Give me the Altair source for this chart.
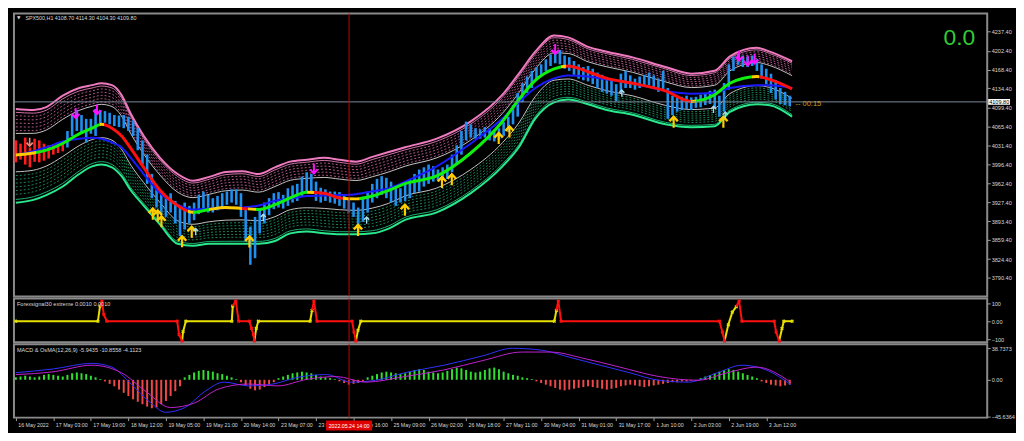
import altair as alt
import pandas as pd

FONT = "Liberation Sans, Arial, sans-serif"

# ---------------- layout ----------------
W = 980
H_MAIN, H_SIG, H_MACD = 285, 44, 74
X_DOMAIN = [-0.8, 414.2]
P_DOMAIN = [3756.5, 4270.4]
S_DOMAIN = [-116, 126]
M_DOMAIN = [-46.5, 43.8]

# ---------------- axis ticks ----------------
price_ticks = [4237.4, 4202.4, 4168.4, 4134.4, 4099.4, 4065.4, 4031.4, 3996.4,
               3962.4, 3927.4, 3893.4, 3859.4, 3824.4, 3790.4, 3756.4]
time_tick_idx = [0, 16, 32, 48, 64, 80, 96, 112, 128, 144, 160, 176, 192, 208,
                 224, 240, 256, 272, 288, 304, 320]
time_tick_lbl = ["16 May 2022", "17 May 03:00", "17 May 19:00", "18 May 12:00",
                 "19 May 05:00", "19 May 21:00", "20 May 14:00", "23 May 07:00",
                 "23 May 23:00", "24 May 16:00", "25 May 09:00", "26 May 02:00",
                 "26 May 18:00", "27 May 11:00", "30 May 04:00", "31 May 01:00",
                 "31 May 17:00", "1 Jun 10:00", "2 Jun 03:00", "2 Jun 19:00",
                 "3 Jun 12:00"]

# ---------------- price bars (every second H1 bar) ----------------
bar_hi = [4040, 4034, 4045, 4027, 4043, 4040, 4034, 4031, 4033, 4036, 4038, 4057, 4086, 4095, 4086, 4079, 4079, 4097, 4095, 4093,
          4090, 4086, 4085, 4086, 4083, 4076, 4062, 4040, 4014, 3979, 3953, 3944, 3935, 3944, 3930, 3918, 3927, 3921, 3927, 3941,
          3947, 3941, 3935, 3939, 3944, 3947, 3951, 3951, 3944, 3918, 3883, 3901, 3915, 3927, 3935, 3944, 3946, 3941, 3953, 3958,
          3961, 3974, 3982, 3979, 3965, 3954, 3951, 3947, 3947, 3946, 3941, 3935, 3927, 3918, 3935, 3947, 3961, 3970, 3975, 3972,
          3965, 3958, 3953, 3961, 3970, 3979, 3987, 3991, 3996, 3993, 3987, 3991, 3996, 4014, 4031, 4057, 4074, 4069, 4062, 4060,
          4064, 4062, 4059, 4062, 4073, 4083, 4104, 4126, 4144, 4156, 4166, 4173, 4178, 4187, 4196, 4201, 4204, 4194, 4191, 4184,
          4178, 4173, 4175, 4170, 4163, 4159, 4152, 4149, 4142, 4161, 4166, 4158, 4152, 4156, 4159, 4163, 4158, 4152, 4166, 4135,
          4121, 4118, 4119, 4121, 4118, 4119, 4123, 4126, 4130, 4132, 4121, 4144, 4178, 4192, 4196, 4194, 4192, 4194, 4187, 4178,
          4170, 4161, 4149, 4135, 4128, 4121]
bar_lo = [4000, 4005, 3996, 3991, 4001, 4000, 4003, 4007, 4014, 4017, 4020, 4027, 4048, 4057, 4052, 4036, 4052, 4048, 4069, 4072,
          4069, 4066, 4064, 4062, 4057, 4048, 4022, 3996, 3961, 3935, 3918, 3906, 3901, 3909, 3889, 3866, 3878, 3889, 3895, 3906,
          3913, 3909, 3909, 3913, 3918, 3923, 3927, 3923, 3901, 3857, 3814, 3826, 3871, 3889, 3904, 3915, 3918, 3916, 3921, 3927,
          3930, 3939, 3947, 3944, 3930, 3927, 3930, 3927, 3925, 3921, 3916, 3909, 3901, 3875, 3892, 3909, 3927, 3935, 3941, 3935,
          3927, 3921, 3927, 3930, 3935, 3944, 3947, 3956, 3961, 3965, 3967, 3968, 3970, 3982, 3996, 4014, 4040, 4045, 4043, 4043,
          4045, 4040, 4038, 4041, 4048, 4055, 4069, 4083, 4109, 4126, 4135, 4152, 4158, 4166, 4175, 4180, 4178, 4170, 4166, 4159,
          4152, 4149, 4147, 4142, 4135, 4128, 4125, 4121, 4111, 4126, 4135, 4135, 4132, 4135, 4138, 4140, 4135, 4128, 4132, 4079,
          4086, 4092, 4095, 4097, 4095, 4099, 4100, 4104, 4106, 4100, 4083, 4092, 4132, 4166, 4177, 4173, 4173, 4175, 4166, 4152,
          4142, 4126, 4114, 4106, 4104, 4102]
red_bar_count = 11
last_price = 4109.8

# ---------------- band knots ----------------
knot_i = [0, 7.5, 13, 20, 27, 32.5, 36.5, 41, 45, 49, 54.5, 61.5, 69, 75.5, 82.5, 89.5, 96.5, 103.5, 110.5, 117,
          124, 131.5, 138, 145, 152, 159, 166, 179.5, 194, 207.5, 214.5, 221.5, 229.5, 235.5, 244, 252, 263, 277, 288, 298,
          304.5, 316, 321.5, 331]
band_up = [4096.8, 4095.1, 4100.3, 4121.1, 4135.0, 4140.2, 4143.7, 4140.2, 4122.9, 4088.2, 4048.2, 4008.3, 3978.8, 3966.6,
           3973.6, 3982.3, 3984.0, 3978.8, 3990.9, 4001.3, 4004.8, 4008.3, 4004.8, 4001.3, 4010.0, 4018.7, 4027.4, 4043.0,
           4074.3, 4122.9, 4161.1, 4201.0, 4230.5, 4227.0, 4209.7, 4201.0, 4190.6, 4173.2, 4161.1, 4166.3, 4192.3, 4207.9,
           4201.0, 4183.6]
band_lo = [3926.7, 3931.9, 3940.6, 3956.2, 3978.8, 3992.7, 3996.1, 3990.9, 3975.3, 3949.3, 3921.5, 3886.8, 3852.1, 3848.6,
           3852.1, 3852.1, 3852.1, 3852.1, 3857.3, 3871.1, 3874.6, 3871.1, 3869.4, 3869.4, 3871.1, 3879.8, 3895.5, 3909.3,
           3944.1, 3992.7, 4027.4, 4079.5, 4109.0, 4114.2, 4105.5, 4095.1, 4086.4, 4069.1, 4063.8, 4065.6, 4091.6, 4105.5,
           4103.8, 4083.0]
center = [4013.5, 4017.0, 4022.2, 4034.3, 4051.7, 4062.1, 4069.1, 4062.1, 4048.2, 4025.6, 3990.9, 3949.3, 3921.5, 3909.3,
          3914.5, 3918.0, 3916.3, 3914.5, 3923.2, 3935.4, 3945.8, 3944.1, 3935.4, 3933.7, 3938.9, 3949.3, 3961.4, 3975.3,
          4017.0, 4074.3, 4114.2, 4148.9, 4169.7, 4174.9, 4164.5, 4152.4, 4143.7, 4129.8, 4110.7, 4122.9, 4143.7, 4155.9,
          4150.6, 4133.3]
slow_ma = [4013.5, 4020.4, 4027.4, 4037.8, 4043.0, 4044.7, 4043.0, 4036.1, 4027.4, 4008.3, 3978.8, 3944.1, 3923.2, 3914.5,
           3916.3, 3917.1, 3918.0, 3921.5, 3930.2, 3933.7, 3938.9, 3939.7, 3940.6, 3942.3, 3947.5, 3952.7, 3964.9, 3992.7,
           4034.3, 4079.5, 4109.0, 4135.0, 4152.4, 4157.6, 4155.9, 4150.6, 4143.7, 4129.8, 4124.6, 4126.3, 4135.0, 4140.2,
           4140.2, 4135.0]
# colour runs of the centre line (start index, colour)
seg_start = [0, 8.8, 35.9, 37.5, 73.4, 75.5, 82.5, 96.3, 99.2, 102.5, 124.2, 127.1, 139.6, 146.3, 232.5, 234.6, 288, 290, 314, 317]
seg_color = ["Y", "G", "Y", "R", "Y", "G", "Y", "R", "Y", "G", "Y", "R", "Y", "G", "Y", "R", "Y", "G", "Y", "R"]

# ---------------- arrows ----------------
arrow_i = [58.4, 60.5, 62.1, 70.9, 75.0, 99.6, 145.9, 165.9, 181.7, 185.9, 205.9, 210.5, 280.5, 301.7,
           25.5, 34.6, 127.1, 230.0, 308.4, 312.1, 315.0,
           76.7, 105.5, 149.6, 258.4, 297.5, 302.5,
           5.9]
arrow_p = [3907.6, 3904.0, 3893.7, 3857.3, 3874.6, 3857.0, 3878.0, 3914.5, 3964.9, 3970.0, 4044.7, 4056.9, 4074.3, 4074.3,
           4088.2, 4095.0, 3987.5, 4204.5, 4192.3, 4183.6, 4187.1,
           3874.6, 3900.7, 3895.7, 4126.3, 4096.8, 4086.4,
           4036.0]
arrow_kind = ["buy"] * 14 + ["sell"] * 7 + ["hint"] * 6 + ["warn"]

# ---------------- Forexsignal30 ----------------
sig_i = [0, 35, 35.9, 36.7, 37.5, 38.8, 68.8, 69.6, 70.9, 71.3, 72.5, 92.1, 92.5, 93.8, 95, 99.6, 100.5, 101.3,
         101.7, 102.5, 103.4, 125.5, 126.3, 127.1, 128.4, 143.4, 144.2, 145, 145.9, 147.1, 229.6, 230.5, 231.3,
         232.5, 300, 301.3, 302.2, 303.8, 305.5, 307.2, 308.4, 309.6, 323.4, 324.2, 325.5, 326.7, 327.5, 331]
sig_v = [0, 0, 84, 112, 37, 0, 0, -74, -110, -58, 0, 0, 84, 112, 0, 0, -40, -74, -110, -40, 0, 0, 60, 112, 0,
         0, -60, -110, -50, 0, 0, 60, 112, 0, 0, -60, -110, -20, 50, 80, 112, 0, 0, -60, -110, -40, 0, 0]
sig_c = ["Y", "Y", "Y", "R", "R", "R", "R", "R", "R", "Y", "Y", "Y", "Y", "R", "R", "R", "R", "R", "R", "Y",
         "Y", "Y", "Y", "R", "R", "R", "R", "R", "Y", "Y", "Y", "Y", "R", "R", "R", "R", "R", "Y", "Y", "Y",
         "R", "R", "R", "R", "R", "Y", "Y", "Y"]

# ---------------- MACD & OsMA ----------------
osma = [3, 4, 5, 4, 3, 4, 6, 7, 6, 5, 4, 6, 8, 9, 8, 7, 5, 3, 1,
        -2, -5, -8, -12, -16, -20, -24, -27, -30, -33, -35, -34, -30, -26, -20, -14, -8,
        3, 6, 9, 11, 12, 11, 10, 8, 7, 5, 3, 1,
        -3, -7, -11, -13, -12, -9, -6, -3,
        2, 4, 6, 8, 9, 10, 9, 8, 6, 4, 3, 2, 1,
        -2, -4, -6, -5, -4, -2,
        3, 5, 7, 9, 10, 9, 8, 7, 8, 10, 12, 13, 12, 10, 9, 8, 9, 11, 13, 15, 14, 12, 10, 9, 10, 12, 14, 15, 13, 10, 8, 6, 5, 3, 2, 1,
        -2, -4, -6, -8, -10, -12, -13, -12, -11, -10, -9, -8, -9, -10, -11, -12, -11, -10, -8, -7, -6, -7, -8, -9, -8, -7, -6, -5,
        -4, -3, -3, -2, -2, -1, -1,
        2, 4, 6, 8, 10, 12, 13, 12, 10, 8, 6, 4, 2,
        -2, -4, -6, -7, -8, -7, -6]
macd_i = [0, 15.9, 32.5, 40.9, 49.2, 57.5, 63.8, 72.1, 80.5, 88.8, 99.2, 109.6, 120, 132.5, 143, 153.4, 165.9, 182.5,
          199.2, 211.7, 224.2, 236.7, 249.2, 261.7, 274.2, 286.7, 299.2, 309.6, 320, 330.4]
macd_v = [8.7, 13.3, 20.2, 15.6, -5.2, -28.3, -39.9, -34.1, -14.5, -2.9, -7.5, -5.2, 2.9, 6.4, -2.9, -0.6, 8.7, 17.9,
          29.5, 38.7, 36.4, 27.2, 17.9, 8.7, -0.6, -2.9, 8.7, 17.9, 12.1, -5.9]
sigl_i = [0, 15.9, 32.5, 45, 55.5, 65.9, 76.3, 86.7, 99.2, 111.7, 124.2, 136.7, 149.2, 165.9, 182.5, 199.2, 215.9,
          228.4, 240.9, 257.5, 274.2, 290.9, 303.4, 315.9, 330.4]
sigl_v = [6.4, 9.8, 17.9, 8.7, -14.5, -34.1, -28.3, -11.0, -5.2, -7.5, 0.6, 4.0, -2.9, 4.0, 12.1, 23.7, 34.1, 34.1,
          27.2, 15.6, 4.0, -0.6, 8.7, 15.6, -3.0]
cursor_i = 142.1

# ---------------- tables ----------------
bars = pd.DataFrame({"i": [2 * k for k in range(len(bar_hi))], "hi": bar_hi, "lo": bar_lo,
                     "c": ["R" if k < red_bar_count else "B" for k in range(len(bar_hi))]})
kn = pd.DataFrame({"i": knot_i, "up": band_up, "lo": band_lo, "ctr": center, "blu": slow_ma})

band_groups = {
    "pink_outer": [1.0], "pink_inner": [0.965], "pink_dots": [0.93, 0.89, 0.85, 0.81, 0.77],
    "white": [0.74, 0.33], "green_dots": [0.29, 0.25, 0.21, 0.17, 0.13, 0.09],
    "green_inner": [0.035], "green_outer": [0.0],
}
rows = []
for g, fr in band_groups.items():
    for fi, f in enumerate(fr):
        for i, u, l in zip(knot_i, band_up, band_lo):
            rows.append({"grp": g, "line": f"{g}{fi}", "i": i, "p": l + f * (u - l)})
bands = pd.DataFrame(rows)

arrows = pd.DataFrame({"i": arrow_i, "p": arrow_p, "k": arrow_kind})

seg_rows = []
for j in range(1, len(sig_i)):
    for jj in (j - 1, j):
        seg_rows.append({"seg": j, "i": sig_i[jj], "v": sig_v[jj], "c": sig_c[j]})
sig_segs = pd.DataFrame(seg_rows)
sig_pts = pd.DataFrame({"i": sig_i, "v": sig_v, "c": sig_c})

hist = pd.DataFrame({"i": [2 * k for k in range(len(osma))], "v": osma,
                     "c": ["G" if v >= 0 else "R" for v in osma]})
macd_df = pd.DataFrame({"i": macd_i, "v": macd_v})
sigl_df = pd.DataFrame({"i": sigl_i, "v": sigl_v})

# ---------------- scales / axes ----------------
xs = alt.Scale(domain=X_DOMAIN, nice=False, zero=False)
ps = alt.Scale(domain=P_DOMAIN, nice=False, zero=False)
ss = alt.Scale(domain=S_DOMAIN, nice=False, zero=False)
ms = alt.Scale(domain=M_DOMAIN, nice=False, zero=False)

AX_COMMON = dict(orient="right", tickSize=3, tickColor="#a0a0a0", domain=False, grid=False, title=None,
                 labelColor="#d8d8d8", labelFontSize=5.6, labelFont=FONT, labelPadding=1,
                 labelFlush=False, labelOverlap=False, labelBound=False)
price_axis = alt.Axis(values=price_ticks, format=".2f", **AX_COMMON)
sig_axis = alt.Axis(values=[100, 0, -100], labelExpr="datum.value == 0 ? '0.00' : format(datum.value, 'd')", **AX_COMMON)
macd_axis = alt.Axis(values=[38.7373, 0, -45.6364],
                     labelExpr="datum.value == 0 ? '0.00' : format(datum.value, '.4f')", **AX_COMMON)
lbl_expr = "''"
for ti, tl in reversed(list(zip(time_tick_idx, time_tick_lbl))):
    lbl_expr = f"datum.value == {ti} ? '{tl}' : ({lbl_expr})"
time_axis = alt.Axis(values=time_tick_idx, labelExpr=lbl_expr, orient="bottom", tickSize=3, tickColor="#a0a0a0",
                     domain=False, grid=False, title=None, labelColor="#d8d8d8", labelFontSize=5.3, labelFont=FONT,
                     labelAlign="left", labelBaseline="top", labelPadding=2, labelFlush=False, labelOverlap=False,
                     labelBound=False, labelOffset=2)


def X(f):
    return alt.X(f, type="quantitative", scale=xs, axis=None)


def XM(f):
    return alt.X(f, type="quantitative", scale=xs, axis=time_axis)


def YP(f):
    return alt.Y(f, type="quantitative", scale=ps, axis=price_axis)


def YS(f):
    return alt.Y(f, type="quantitative", scale=ss, axis=sig_axis)


def YM(f):
    return alt.Y(f, type="quantitative", scale=ms, axis=macd_axis)


UP = "M0,-1 L0.8,-0.15 L0.5,0.1 L0.17,-0.3 L0.17,1 L-0.17,1 L-0.17,-0.3 L-0.5,0.1 L-0.8,-0.15 Z"
DOWN = "M0,1 L0.8,0.15 L0.5,-0.1 L0.17,0.3 L0.17,-1 L-0.17,-1 L-0.17,0.3 L-0.5,-0.1 L-0.8,0.15 Z"


def label(t, x, y, size=5.6, color="#d8d8d8", font=FONT):
    return alt.Chart(pd.DataFrame({"t": [t]})).mark_text(
        align="left", baseline="middle", font=font, fontSize=size, color=color).encode(
        x=alt.value(x), y=alt.value(y), text="t:N")


# ---------------- main panel ----------------
def band_layer(g, color, width, dash=None, opacity=1.0):
    kw = dict(stroke=color, strokeWidth=width, interpolate="monotone", opacity=opacity)
    if dash:
        kw["strokeDash"] = dash
    return alt.Chart(bands).transform_filter(alt.datum.grp == g).mark_line(**kw).encode(
        x=X("i"), y=YP("p"), detail="line:N")


layers = [
    band_layer("pink_dots", "#c0609a", 1, [2, 2], 0.9),
    band_layer("green_dots", "#1c8c5c", 1, [2, 2], 0.95),
    band_layer("white", "#c4c4c4", 1),
    band_layer("pink_inner", "#d070a8", 1),
    band_layer("pink_outer", "#f07ac0", 2),
    band_layer("green_inner", "#18b070", 1),
    band_layer("green_outer", "#2ae88c", 2),
]

for c, colr in [("R", "#ff1c1c"), ("B", "#2090f0")]:
    layers.append(alt.Chart(bars).transform_filter(alt.datum.c == c).mark_rule(strokeWidth=2.6, color=colr).encode(
        x=X("i"), y=YP("lo"), y2="hi:Q"))

layers.append(alt.Chart(kn).mark_line(stroke="#1a1aff", strokeWidth=2, interpolate="monotone").encode(
    x=X("i"), y=YP("blu")))

col = {"Y": "#ffcc00", "G": "#10f010", "R": "#ff1010"}
span = knot_i[-1] - knot_i[0]
stops = []
for j, (s, c) in enumerate(zip(seg_start, seg_color)):
    e = seg_start[j + 1] if j + 1 < len(seg_start) else knot_i[-1]
    stops.append(alt.GradientStop(color=col[c], offset=(s - knot_i[0]) / span))
    stops.append(alt.GradientStop(color=col[c], offset=(e - knot_i[0]) / span))
grad = alt.LinearGradient(gradient="linear", stops=stops, x1=0, x2=1, y1=0, y2=0)
layers.append(alt.Chart(kn).mark_line(stroke=grad, strokeWidth=3, interpolate="monotone").encode(
    x=X("i"), y=YP("ctr")))

for k, shape, colr, size in [("buy", UP, "#ffcc00", 165), ("sell", DOWN, "#ff10ff", 130),
                             ("hint", UP, "#a8dcec", 60), ("warn", DOWN, "#f08878", 90)]:
    layers.append(alt.Chart(arrows).transform_filter(alt.datum.k == k).mark_point(
        shape=shape, filled=True, size=size, color=colr, opacity=1, strokeWidth=0).encode(
        x=X("i"), y=YP("p")))

layers.append(alt.Chart(pd.DataFrame({"p": [last_price]})).mark_rule(color="#7a8899", strokeWidth=1).encode(
    y=YP("p")))
layers.append(alt.Chart(pd.DataFrame({"i": [cursor_i]})).mark_rule(color="#c80000", strokeWidth=1).encode(x=X("i")))

# price label on the axis
layers.append(alt.Chart(pd.DataFrame({"a": [last_price + 5.2], "b": [last_price - 5.2]})).mark_rect(
    color="#ffffff").encode(x=alt.value(W + 1), x2=alt.value(W + 23), y=YP("a"), y2="b:Q"))
layers.append(alt.Chart(pd.DataFrame({"p": [last_price], "t": ["4109.80"]})).mark_text(
    align="left", baseline="middle", font=FONT, fontSize=5.6, color="#000000").encode(
    x=alt.value(W + 2), y=YP("p"), text="t:N"))
layers.append(alt.Chart(pd.DataFrame({"p": [last_price - 3], "t": ["--  00:15"]})).mark_text(
    align="left", baseline="middle", font=FONT, fontSize=7.5, color="#c8a020").encode(
    x=alt.value(787), y=YP("p"), text="t:N"))

layers.append(label("\u25bc", 3, 4.6, 4.5, "#d8d8d8", "DejaVu Sans"))
layers.append(label("SPX500,H1  4108.70 4114.30 4104.30 4109.80", 11.5, 4.8, 5.4))
layers.append(label("0.0", 936, 25, 23, "#32cd32"))

main = alt.layer(*layers).properties(width=W, height=H_MAIN)

# ---------------- signal panel ----------------
sig_layers = []
for c, colr in [("Y", "#e8e000"), ("R", "#ff1010")]:
    sig_layers.append(alt.Chart(sig_segs).transform_filter(alt.datum.c == c).mark_line(
        strokeWidth=2, color=colr).encode(x=X("i"), y=YS("v"), detail="seg:N"))
    sig_layers.append(alt.Chart(sig_pts).transform_filter(alt.datum.c == c).mark_point(
        shape="cross", angle=45, size=14, filled=True, strokeWidth=0, color=colr, opacity=1).encode(
        x=X("i"), y=YS("v")))
sig_layers.append(alt.Chart(pd.DataFrame({"i": [cursor_i]})).mark_rule(color="#c80000", strokeWidth=1).encode(x=X("i")))
sig_layers.append(label("Forexsignal30 extreme 0.0010 0.0010", 3, 5.7))
sig = alt.layer(*sig_layers).properties(width=W, height=H_SIG)

# ---------------- MACD panel ----------------
macd_layers = []
for c, colr in [("G", "#30e030"), ("R", "#f04848")]:
    macd_layers.append(alt.Chart(hist).transform_filter(alt.datum.c == c).mark_rule(strokeWidth=2, color=colr).encode(
        x=XM("i"), y=YM("v"), y2=alt.datum(0)))
macd_layers += [
    alt.Chart(macd_df).mark_line(stroke="#3030ff", strokeWidth=1, interpolate="monotone").encode(x=XM("i"), y=YM("v")),
    alt.Chart(sigl_df).mark_line(stroke="#c020d0", strokeWidth=1, interpolate="monotone").encode(x=XM("i"), y=YM("v")),
    alt.Chart(pd.DataFrame({"i": [cursor_i]})).mark_rule(color="#c80000", strokeWidth=1).encode(x=XM("i")),
    label("MACD & OsMA(12,26,9) -5.9435 -10.8558 -4.1123", 3, 5.8),
    alt.Chart(pd.DataFrame({"a": [cursor_i - 9.8], "b": [cursor_i + 9.8]})).mark_rect(color="#e00000").encode(
        x=XM("a"), x2="b:Q", y=alt.value(H_MACD + 3), y2=alt.value(H_MACD + 13)),
    alt.Chart(pd.DataFrame({"i": [cursor_i], "t": ["2022.05.24 14:00"]})).mark_text(
        align="center", baseline="middle", font=FONT, fontSize=5.3, color="#ffffff").encode(
        x=XM("i"), y=alt.value(H_MACD + 8), text="t:N"),
]
macd = alt.layer(*macd_layers).properties(width=W, height=H_MACD)

chart = alt.vconcat(main, sig, macd, spacing=2, bounds="flush").properties(
    background="#000000", padding={"left": 0, "top": 2, "right": 0, "bottom": 0}
).configure_view(stroke="#8a8a8a", strokeWidth=2)

chart.save("out.html", embed_options={"renderer": "svg", "actions": False})
